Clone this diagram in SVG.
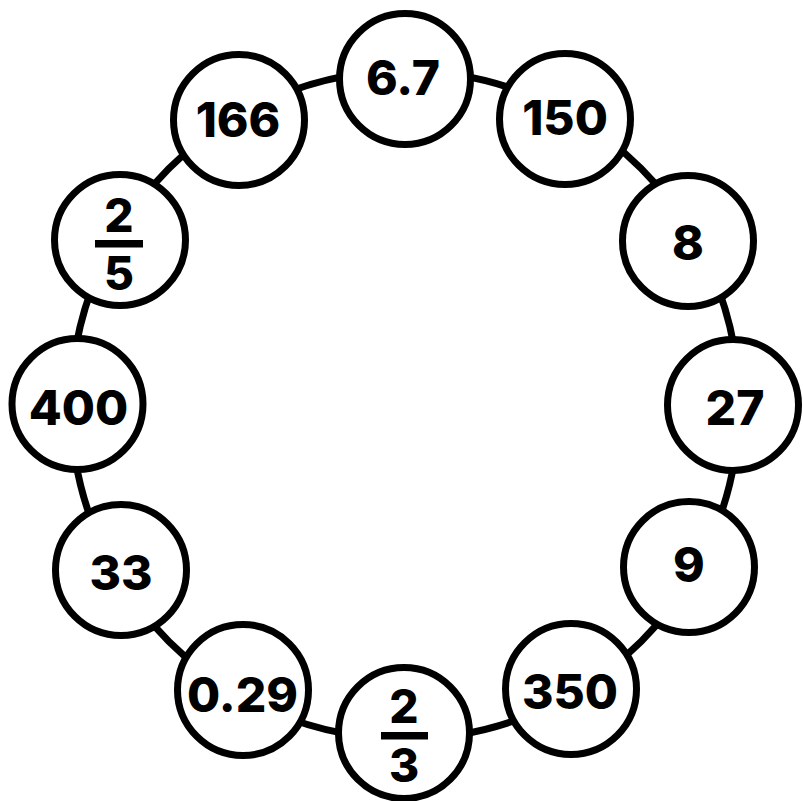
<svg xmlns="http://www.w3.org/2000/svg" width="803" height="801" viewBox="0 0 803 801">
<style>
.ring{fill:none;stroke:#000;stroke-width:7}
.node circle{fill:#fff;stroke:#000;stroke-width:7}
.node text{font-family:Inter,"Liberation Sans",sans-serif;font-weight:800;font-size:48px;fill:#000;text-anchor:middle}
.node text.f{font-size:46px}
.bar{fill:#000}
</style>
<rect width="803" height="801" fill="#fff"/>
<g id="connectors">
<path class="ring" d="M405,71 A334,334 0 0 1 572,115.75"/>
<path class="ring" d="M572,115.75 A334,334 0 0 1 694.25,238"/>
<path class="ring" d="M694.25,238 A334,334 0 0 1 739,405"/>
<path class="ring" d="M739,405 A334,334 0 0 1 694.25,572"/>
<path class="ring" d="M694.25,572 A334,334 0 0 1 572,694.25"/>
<path class="ring" d="M572,694.25 A334,334 0 0 1 405,739"/>
<path class="ring" d="M405,739 A334,334 0 0 1 238,694.25"/>
<path class="ring" d="M238,694.25 A334,334 0 0 1 115.75,572"/>
<path class="ring" d="M115.75,572 A334,334 0 0 1 71,405"/>
<path class="ring" d="M71,405 A334,334 0 0 1 115.75,238"/>
<path class="ring" d="M115.75,238 A334,334 0 0 1 238,115.75"/>
<path class="ring" d="M238,115.75 A334,334 0 0 1 405,71"/>
</g>
<g id="n-6-7" class="node"><circle cx="405" cy="79" r="65.5"/><text x="403" y="95">6.7</text></g>
<g id="n-150" class="node"><circle cx="565" cy="119" r="65.5"/><text x="565" y="135">150</text></g>
<g id="n-8" class="node"><circle cx="688" cy="241" r="65.5"/><text x="688" y="260">8</text></g>
<g id="n-27" class="node"><circle cx="733" cy="405" r="65.5"/><text x="735" y="425">27</text></g>
<g id="n-9" class="node"><circle cx="689" cy="567" r="65.5"/><text x="689" y="582">9</text></g>
<g id="n-350" class="node"><circle cx="571" cy="689" r="65.5"/><text x="570" y="709">350</text></g>
<g id="n-2-3" class="node"><circle cx="404" cy="733" r="65.5"/><text class="f" x="404" y="723">2</text><rect class="bar" x="381" y="732" width="47" height="7.5"/><text class="f" x="404" y="782">3</text></g>
<g id="n-0-29" class="node"><circle cx="243" cy="690" r="65.5"/><text x="242.5" y="712">0.29</text></g>
<g id="n-33" class="node"><circle cx="121" cy="570" r="65.5"/><text x="121" y="590">33</text></g>
<g id="n-400" class="node"><circle cx="77.5" cy="404" r="65.5"/><text x="78.5" y="425">400</text></g>
<g id="n-2-5" class="node"><circle cx="120" cy="240" r="65.5"/><text class="f" x="119" y="232">2</text><rect class="bar" x="95" y="240" width="48" height="7.5"/><text class="f" x="119" y="290">5</text></g>
<g id="n-166" class="node"><circle cx="239" cy="120" r="65.5"/><text x="238" y="137">166</text></g>
</svg>
